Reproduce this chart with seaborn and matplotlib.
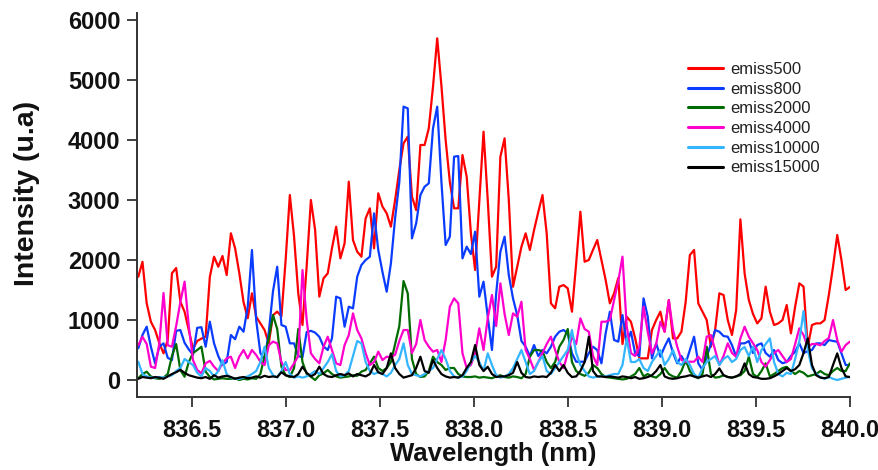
import numpy as np
import pandas as pd
import matplotlib
matplotlib.use("Agg")
import matplotlib.pyplot as plt
import seaborn as sns

# ---- data ----
wavelength = np.round(836.2137 + 0.0224 * np.arange(170), 4)

emiss500 = [
    1720, 1970, 1280, 970, 833, 617, 445, 667, 1780, 1867,
    1305, 1138, 833, 520, 650, 690, 720, 1720, 2055, 1888,
    2067, 1750, 2445, 2195, 1780, 1300, 1030, 1445, 1055, 945,
    833, 611, 1080, 1140, 1060, 2000, 3083, 2390, 1445, 917,
    1900, 3000, 2500, 1390, 1695, 1778, 2195, 2555, 2028, 2278,
    3306, 2333, 2139, 2056, 2695, 2861, 2195, 3111, 2890, 2778,
    2556, 3000, 3500, 3945, 4056, 3056, 2833, 3917, 3917, 4195,
    4890, 5695, 4900, 4000, 3300, 2862, 2862, 3750, 3388, 2445,
    1833, 3000, 4139, 3000, 1722, 1889, 3722, 4028, 3000, 1555,
    1889, 2222, 2445, 2167, 2500, 2800, 3083, 2445, 1278, 1195,
    1555, 1583, 1528, 1138, 1945, 2805, 1972, 2000, 2170, 2333,
    2000, 1667, 1278, 1445, 1700, 600, 1055, 972, 700, 361,
    361, 361, 833, 1000, 1139, 805, 1333, 694, 694, 805,
    1300, 2083, 2167, 1278, 1139, 1000, 555, 833, 1445, 1417,
    1000, 750, 1167, 2678, 1778, 1333, 1100, 944, 1028, 1556,
    1139, 917, 944, 1000, 1250, 778, 1222, 1611, 1556, 555,
    917, 944, 944, 1000, 1417, 1889, 2417, 2000, 1500, 1550]

emiss800 = [
    528, 750, 889, 555, 278, 555, 611, 370, 333, 820,
    833, 620, 510, 420, 870, 880, 555, 972, 611, 400,
    250, 300, 750, 680, 889, 805, 1222, 2167, 1000, 450,
    333, 800, 1480, 1889, 917, 889, 611, 611, 400, 380,
    800, 820, 790, 720, 560, 500, 694, 1389, 1361, 889,
    1222, 1194, 1722, 1917, 2000, 2055, 2778, 2167, 1800, 1472,
    1944, 2700, 3300, 4556, 4528, 2361, 2611, 3083, 3222, 3278,
    4195, 4556, 3300, 2250, 2389, 3722, 3733, 2028, 2222, 2100,
    2472, 1389, 1639, 1055, 500, 1444, 2139, 2389, 1750, 1360,
    1080, 650, 555, 400, 583, 400, 500, 445, 555, 722,
    805, 833, 778, 445, 305, 305, 305, 450, 555, 500,
    278, 778, 1139, 667, 639, 1083, 611, 805, 445, 400,
    1361, 1055, 361, 611, 389, 555, 694, 450, 278, 400,
    278, 500, 722, 278, 167, 389, 600, 833, 805, 733,
    722, 583, 389, 611, 611, 650, 450, 583, 611, 450,
    389, 500, 333, 280, 300, 400, 472, 611, 450, 480,
    500, 611, 611, 583, 667, 650, 639, 445, 250, 250]

emiss2000 = [
    30, 100, 139, 60, 30, 20, 40, 100, 400, 600,
    167, 55, 300, 450, 500, 555, 140, 50, 10, 20,
    30, 20, 20, 30, 0, 20, 10, 30, 20, 100,
    400, 700, 1083, 850, 222, 80, 50, 200, 850, 300,
    100, 55, 0, 80, 110, 167, 100, 60, 40, 50,
    60, 80, 70, 140, 167, 278, 389, 200, 150, 200,
    300, 600, 900, 1650, 1445, 350, 100, 50, 60, 150,
    389, 300, 250, 167, 200, 200, 100, 60, 50, 50,
    60, 40, 50, 40, 30, 60, 80, 50, 40, 60,
    50, 30, 100, 389, 500, 500, 480, 300, 200, 300,
    555, 667, 850, 300, 150, 100, 70, 120, 250, 200,
    100, 50, 40, 30, 20, 10, 20, 60, 100, 200,
    60, 100, 60, 40, 100, 200, 100, 60, 40, 150,
    333, 150, 60, 30, 100, 555, 100, 40, 50, 80,
    50, 40, 60, 80, 150, 389, 100, 50, 150, 278,
    60, 100, 150, 200, 220, 150, 100, 150, 120, 60,
    80, 100, 150, 100, 80, 150, 200, 150, 150, 278]

emiss4000 = [
    580, 720, 600, 222, 200, 611, 1450, 580, 555, 900,
    1300, 1639, 900, 333, 167, 111, 278, 320, 222, 150,
    280, 361, 389, 200, 389, 500, 361, 500, 417, 305,
    250, 580, 640, 611, 300, 167, 167, 278, 400, 1833,
    1000, 445, 350, 278, 555, 722, 500, 278, 250, 583,
    750, 1111, 833, 694, 445, 250, 300, 472, 333, 389,
    380, 420, 650, 833, 833, 450, 600, 1000, 667, 555,
    472, 500, 300, 667, 1222, 1361, 1278, 445, 200, 250,
    445, 861, 500, 1028, 1417, 900, 1611, 1100, 750, 1111,
    1055, 1305, 500, 350, 167, 300, 450, 600, 722, 500,
    300, 200, 450, 722, 600, 1028, 850, 805, 400, 250,
    972, 972, 1000, 1333, 1650, 2056, 900, 450, 400, 555,
    1222, 800, 445, 600, 972, 805, 1333, 833, 555, 333,
    305, 305, 305, 389, 300, 722, 750, 500, 250, 400,
    611, 450, 389, 694, 889, 722, 611, 500, 300, 222,
    333, 450, 500, 400, 300, 350, 600, 861, 750, 550,
    600, 600, 580, 650, 700, 1000, 667, 472, 583, 639]

emiss10000 = [
    305, 100, 60, 40, 40, 50, 40, 60, 80, 150,
    200, 350, 300, 250, 120, 60, 200, 150, 60, 150,
    330, 100, 40, 20, 20, 40, 60, 100, 150, 300,
    555, 200, 80, 40, 150, 300, 100, 40, 60, 40,
    60, 100, 150, 100, 200, 300, 430, 150, 60, 80,
    150, 400, 650, 611, 300, 150, 100, 130, 100, 60,
    120, 250, 350, 611, 250, 100, 80, 60, 100, 150,
    200, 350, 500, 350, 150, 60, 40, 60, 150, 300,
    400, 300, 150, 445, 250, 80, 40, 60, 100, 200,
    350, 500, 300, 100, 150, 300, 400, 150, 100, 200,
    300, 400, 500, 833, 450, 250, 150, 60, 40, 60,
    60, 60, 80, 100, 100, 250, 694, 300, 300, 350,
    200, 150, 300, 400, 500, 250, 350, 500, 300, 250,
    350, 250, 100, 40, 200, 300, 350, 400, 250, 350,
    400, 300, 350, 500, 550, 400, 555, 300, 500, 600,
    694, 300, 100, 60, 120, 100, 350, 650, 1150, 500,
    200, 100, 50, 20, 50, 20, 0, 20, 40, 50]

emiss15000 = [
    20, 50, 40, 30, 50, 40, 20, 60, 100, 130,
    170, 120, 80, 60, 40, 30, 50, 20, 80, 40,
    60, 70, 50, 20, 40, 50, 30, 40, 60, 40,
    70, 50, 60, 50, 130, 80, 60, 50, 100, 222,
    120, 60, 100, 222, 100, 60, 50, 80, 100, 80,
    110, 60, 100, 80, 60, 100, 250, 130, 100, 200,
    445, 200, 100, 40, 60, 80, 200, 389, 150, 120,
    333, 200, 100, 60, 40, 50, 40, 80, 200, 300,
    583, 250, 150, 220, 100, 50, 60, 60, 80, 120,
    300, 120, 50, 40, 60, 50, 60, 50, 120, 250,
    150, 250, 120, 50, 60, 150, 300, 722, 150, 60,
    60, 50, 60, 50, 40, 60, 50, 30, 50, 20,
    30, 50, 80, 150, 250, 60, 30, 20, 30, 50,
    60, 80, 60, 40, 60, 80, 50, 100, 194, 80,
    50, 40, 60, 100, 278, 100, 50, 40, 20, 20,
    30, 60, 100, 150, 200, 150, 180, 250, 450, 694,
    250, 80, 40, 30, 50, 250, 444, 200, 60, 50]

series_names = ["emiss500", "emiss800", "emiss2000", "emiss4000", "emiss10000", "emiss15000"]
series_values = [emiss500, emiss800, emiss2000, emiss4000, emiss10000, emiss15000]
colors = ["#ff0000", "#0a3cff", "#006b00", "#ff00cc", "#33b5ff", "#000000"]

x_ticks = [836.5, 837.0, 837.5, 838.0, 838.5, 839.0, 839.5, 840.0]
x_tick_labels = ["836.5", "837.0", "837.5", "838.0", "838.5", "839.0", "839.5", "840.0"]
y_ticks = [0, 1000, 2000, 3000, 4000, 5000, 6000]
y_tick_labels = ["0", "1000", "2000", "3000", "4000", "5000", "6000"]

df = pd.concat(
    [pd.DataFrame({"Wavelength": wavelength, "Intensity": v, "series": n})
     for n, v in zip(series_names, series_values)],
    ignore_index=True)

# ---- style ----
sns.set_theme(style="ticks")
plt.rcParams["font.family"] = ["Liberation Sans", "DejaVu Sans"]

fig = plt.figure(figsize=(8.79, 4.70), dpi=100)
ax = fig.add_axes([137 / 879, 1 - 397 / 470, (850 - 137) / 879, (397 - 13) / 470])

sns.lineplot(data=df, x="Wavelength", y="Intensity", hue="series",
             hue_order=series_names, palette=dict(zip(series_names, colors)),
             linewidth=1.6, ax=ax, estimator=None, sort=False)

ax.set_xlim(836.207, 840.0)
ax.set_ylim(-283, 6117)
ax.set_xticks(x_ticks)
ax.set_xticklabels(x_tick_labels)
ax.set_yticks(y_ticks)
ax.set_yticklabels(y_tick_labels)

for s in ["top", "right"]:
    ax.spines[s].set_visible(False)
for s in ["left", "bottom"]:
    ax.spines[s].set_linewidth(1.4)
    ax.spines[s].set_color("#333333")

ax.tick_params(axis="both", direction="out", length=7, width=1.3, color="#333333",
               labelsize=17, labelcolor="#111111")
ax.tick_params(axis="y", pad=5)
ax.tick_params(axis="x", pad=9)
for lab in ax.get_xticklabels() + ax.get_yticklabels():
    lab.set_fontweight("bold")

ax.set_xlabel("Wavelength (nm)", fontsize=18.5, fontweight="bold", color="#111111")
ax.xaxis.set_label_coords(0.5, -0.118)
ax.set_ylabel("Intensity (u.a)", fontsize=20.5, fontweight="bold", color="#111111")
ax.yaxis.set_label_coords(-0.136, 0.53)

leg = ax.legend(loc="upper left", bbox_to_anchor=(688 / 879, 1 - 62 / 470),
                bbox_transform=fig.transFigure, frameon=False, fontsize=12,
                handlelength=2.1, handletextpad=0.45, labelspacing=0.28,
                borderpad=0, borderaxespad=0)
for line in leg.get_lines():
    line.set_linewidth(2.2)
for t in leg.get_texts():
    t.set_color("#222222")

fig.savefig("out.png", dpi=100)
